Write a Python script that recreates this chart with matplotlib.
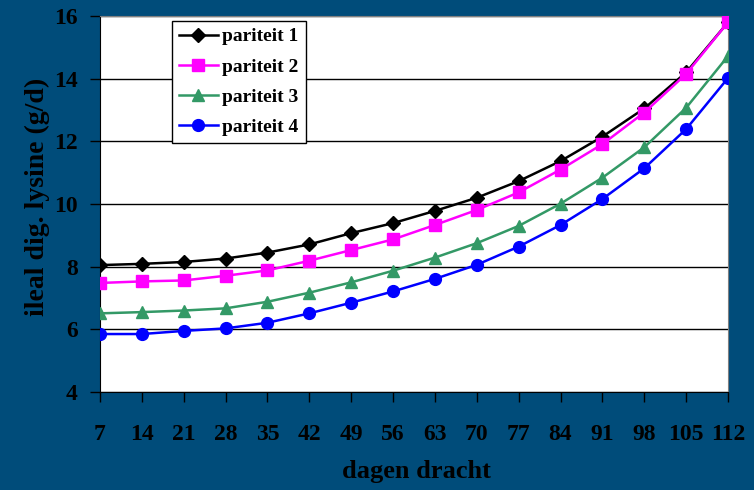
import matplotlib
matplotlib.use("Agg")
import matplotlib.pyplot as plt

plt.rcParams.update({
    "font.family": ["Liberation Serif", "DejaVu Serif"],
    "font.weight": "bold",
})

BG = "#004c7a"

days = [7, 14, 21, 28, 35, 42, 49, 56, 63, 70, 77, 84, 91, 98, 105, 112]
pariteit1 = [8.05, 8.09, 8.15, 8.26, 8.45, 8.71, 9.07, 9.39, 9.78, 10.2,
             10.73, 11.37, 12.15, 13.05, 14.2, 15.8]
pariteit2 = [7.48, 7.53, 7.56, 7.71, 7.88, 8.19, 8.53, 8.87, 9.33, 9.81,
             10.37, 11.1, 11.91, 12.92, 14.15, 15.8]
pariteit3 = [6.51, 6.55, 6.6, 6.67, 6.88, 7.17, 7.5, 7.87, 8.29, 8.75,
             9.3, 10.01, 10.84, 11.81, 13.07, 14.72]
pariteit4 = [5.85, 5.85, 5.95, 6.03, 6.21, 6.51, 6.85, 7.21, 7.61, 8.06,
             8.64, 9.33, 10.16, 11.14, 12.39, 14.02]

series = [
    ("pariteit 1", pariteit1, "#000000", "D", 7.5),
    ("pariteit 2", pariteit2, "#ff00ff", "s", 8.5),
    ("pariteit 3", pariteit3, "#339966", "^", 8.5),
    ("pariteit 4", pariteit4, "#0000ff", "o", 8.5),
]

fig = plt.figure(figsize=(7.54, 4.9), dpi=100, facecolor=BG)
ax = fig.add_axes([0.1326, 0.2, 0.8329, 0.7673])
ax.set_facecolor("white")

xs = list(range(len(days)))
for name, vals, col, mk, ms in series:
    ax.plot(xs, vals, color=col, linewidth=1.8, marker=mk, markersize=ms,
            label=name, zorder=3)

ax.set_xlim(0, len(days) - 1)
ax.set_ylim(4, 16)
ax.set_xticks(xs)
ax.set_xticklabels([str(d) for d in days])
ax.set_yticks(range(4, 17, 2))
ax.grid(axis="y", color="black", linewidth=1.0)
ax.set_axisbelow(True)

for side in ["top", "right"]:
    ax.spines[side].set_color("#808080")
for side in ["left", "bottom"]:
    ax.spines[side].set_color("black")

ax.tick_params(axis="both", direction="out", length=7, width=1, color="black",
               labelsize=17, labelcolor="black")
ax.tick_params(axis="x", pad=16)
ax.tick_params(axis="y", pad=9)
for lbl in ax.get_xticklabels() + ax.get_yticklabels():
    lbl.set_fontweight("bold")

fig.text(0.552, 0.037, "dagen dracht", ha="center", va="center",
         fontsize=19, fontweight="bold", color="black")
fig.text(0.05, 0.598, "ileal dig. lysine (g/d)", ha="center", va="center",
         rotation=90, fontsize=20, fontweight="bold", color="black")

# legend box sits inside the plot, upper left
leg = ax.legend(loc="upper left", bbox_to_anchor=(0.228, 0.957),
                bbox_transform=fig.transFigure, borderaxespad=0,
                fancybox=False, edgecolor="black", framealpha=1,
                borderpad=0.35, handlelength=2.0, handletextpad=0.25,
                labelspacing=0.65,
                prop={"family": "Liberation Serif", "weight": "bold", "size": 14})
leg.get_frame().set_linewidth(1.0)

fig.savefig("out.png", dpi=100, facecolor=BG)
